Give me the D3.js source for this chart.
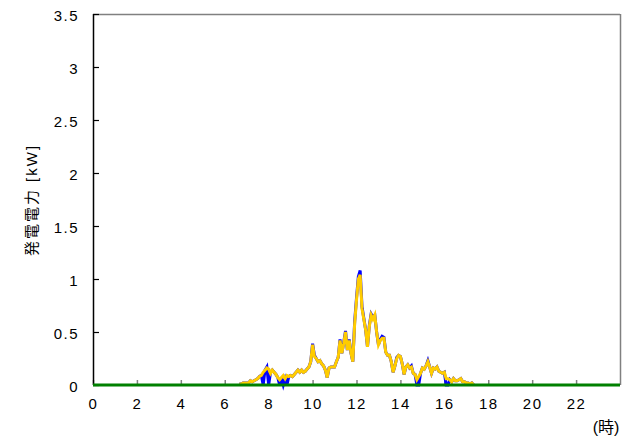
<!DOCTYPE html>
<html><head><meta charset="utf-8">
<script src="https://cdn.jsdelivr.net/npm/d3@7"></script>
<style>
html,body{margin:0;padding:0;background:#fff;}
svg text{font-family:"Liberation Sans",Arial,"Noto Sans CJK JP",sans-serif;}
</style></head>
<body><svg id="c" width="626" height="443"></svg>
<script>
// start 6:40, 5-minute steps
const startHour = 6 + 40/60;
const stepMinutes = 5;
const yellowSeries = [
  0.01,0.01,0.02,0.02,
  0.02,0.02,0.04,0.03,0.04,0.05,0.06,0.08,0.09,0.12,0.14,0.16,
  0.15,0.11,0.14,0.12,0.10,0.07,0.05,0.07,0.09,0.06,0.09,0.08,
  0.09,0.08,0.10,0.12,0.14,0.12,0.14,0.12,0.13,0.15,0.17,0.22,
  0.38,0.27,0.25,0.22,0.23,0.20,0.18,0.14,0.07,0.16,0.17,0.17,
  0.17,0.22,0.26,0.42,0.30,0.39,0.50,0.33,0.42,0.30,0.22,0.58,
  0.80,1.00,1.04,0.72,0.62,0.52,0.36,0.55,0.66,0.62,0.66,0.50,
  0.38,0.42,0.44,0.44,0.31,0.28,0.28,0.22,0.12,0.18,0.25,0.28,
  0.27,0.20,0.10,0.17,0.19,0.16,0.17,0.11,0.10,0.05,0.08,0.11,
  0.16,0.15,0.18,0.22,0.17,0.11,0.16,0.15,0.17,0.13,0.12,0.11,
  0.12,0.06,0.06,0.05,0.03,0.06,0.04,0.04,0.05,0.06,0.03,0.03,
  0.02,0.02,0.01,0.02,0.00
];
const blueSeries = [
  0.01,0.01,0.02,0.02,
  0.02,0.02,0.04,0.03,0.04,0.05,0.06,0.08,0.09,0.00,0.14,0.17,
  0.00,0.12,0.14,0.12,0.10,0.07,0.00,0.07,0.00,0.06,0.00,0.08,
  0.09,0.08,0.10,0.12,0.14,0.12,0.14,0.12,0.13,0.15,0.17,0.22,
  0.39,0.28,0.25,0.22,0.23,0.20,0.18,0.14,0.07,0.16,0.17,0.17,
  0.17,0.22,0.26,0.43,0.30,0.40,0.51,0.33,0.43,0.30,0.22,0.60,
  0.82,1.02,1.08,0.74,0.63,0.52,0.36,0.56,0.67,0.64,0.66,0.50,
  0.38,0.43,0.46,0.45,0.31,0.28,0.28,0.22,0.12,0.18,0.26,0.28,
  0.27,0.20,0.10,0.17,0.19,0.16,0.18,0.11,0.10,0.00,0.00,0.11,
  0.16,0.15,0.18,0.23,0.17,0.11,0.16,0.15,0.17,0.13,0.12,0.11,
  0.12,0.00,0.00,0.05,0.03,0.06,0.04,0.04,0.05,0.06,0.03,0.03,
  0.02,0.02,0.01,0.02,0.00
];
const greenHours = [0, 24];
const greenSeries = [0, 0];
const xTickValues = [0,2,4,6,8,10,12,14,16,18,20,22];
const yTickValues = [0,0.5,1,1.5,2,2.5,3,3.5];
const yTickLabels = ["0","0.5","1","1.5","2","2.5","3","3.5"];
const yTitle = "発電電力 [kW]";
const xUnit = "(時)";

const svg = d3.select("#c");
const L = 93, R = 620, T = 14, B = 385;
const x = d3.scaleLinear().domain([0,24]).range([L,R]);
const y = d3.scaleLinear().domain([0,3.5]).range([B,T]);

// frame (top/right gray)
svg.append("line").attr("x1",L).attr("x2",R).attr("y1",T+0.5).attr("y2",T+0.5).attr("stroke","#808080").attr("stroke-width",1.5);
svg.append("line").attr("x1",R+0.5).attr("x2",R+0.5).attr("y1",T).attr("y2",B).attr("stroke","#808080").attr("stroke-width",1.5);

// x axis ticks (inward)
const xAxis = d3.axisBottom(x).tickValues(xTickValues).tickSize(-5).tickPadding(22).tickFormat(d3.format("d"));
const gx = svg.append("g").attr("transform",`translate(0,${B})`).call(xAxis);
gx.select(".domain").remove();
gx.selectAll(".tick line").attr("stroke","#808080").attr("stroke-width",1.5);
gx.selectAll(".tick text").attr("font-size",15).attr("fill","#000").attr("letter-spacing","1.5px").attr("dy","0.1em");

// y axis
const yAxis = d3.axisLeft(y).tickValues(yTickValues).tickSize(-6).tickPadding(14).tickFormat((d,i)=>yTickLabels[i]);
const gy = svg.append("g").attr("transform",`translate(${L},0)`).call(yAxis);
gy.select(".domain").attr("stroke","#000").attr("stroke-width",1.5).attr("d",`M0.5,${T}V${B}`);
gy.selectAll(".tick line").attr("stroke","#000").attr("stroke-width",1.2);
gy.selectAll(".tick text").attr("font-size",15).attr("fill","#000").attr("letter-spacing","1.5px").attr("dy","0.4em");

const times = yellowSeries.map((_, i) => startHour + i*stepMinutes/60);
const line = d3.line().x((d,i)=>x(times[i])).y(d=>y(d));

svg.append("path").datum(blueSeries).attr("d",line).attr("fill","none").attr("stroke","#0000FF").attr("stroke-width",3).attr("stroke-linejoin","miter");
svg.append("path").datum(yellowSeries).attr("d",line).attr("fill","none").attr("stroke","#FFCC00").attr("stroke-width",3).attr("stroke-linejoin","miter");

const gline = d3.line().x((d,i)=>x(greenHours[i])).y(d=>y(d));
svg.append("path").datum(greenSeries).attr("d",gline).attr("fill","none").attr("stroke","#008000").attr("stroke-width",3);

// y title
svg.append("text").attr("transform","translate(31,200) rotate(-90)").attr("text-anchor","middle").attr("dominant-baseline","central")
  .attr("font-size",15).attr("letter-spacing","2px").text(yTitle);

// x unit
svg.append("text").attr("x",606).attr("y",433).attr("text-anchor","middle").attr("font-size",16).text(xUnit);
</script></body></html>
